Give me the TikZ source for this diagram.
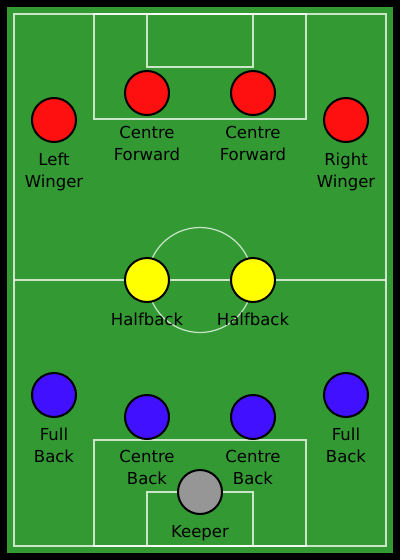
\documentclass[tikz,border=0pt]{standalone}
\usepackage{fontspec}
\setmainfont{DejaVu Sans}
\definecolor{pitch}{RGB}{51,153,51}
\definecolor{fwd}{RGB}{255,16,16}
\definecolor{half}{RGB}{255,255,0}
\definecolor{back}{RGB}{64,16,255}
\definecolor{keep}{RGB}{150,150,150}
\begin{document}
\begin{tikzpicture}[x=1pt,y=-1pt,
  pline/.style={draw=white,draw opacity=0.75,line width=1.2pt},
  player/.style={circle,draw=black,line width=2pt,minimum size=44pt,inner sep=0pt},
  lbl/.style={anchor=base,align=center,inner sep=0pt,font=\fontsize{16.5}{22}\selectfont}]
\useasboundingbox (0,0) rectangle (400,560);
\fill[black] (0,0) rectangle (400,560);
\fill[pitch] (7,7) rectangle (393,553);
% markings
\draw[pline] (14,14) rectangle (386,546);
\draw[pline] (14,280) -- (386,280);
\draw[pline] (200,280) circle[radius=52.5];
\draw[pline] (94,14) rectangle (306,119);
\draw[pline] (147,14) rectangle (253,67);
\draw[pline] (94,546) rectangle (306,440);
\draw[pline] (147,546) rectangle (253,492);
% players
\node[player,fill=fwd] (lw) at (54,120) {};
\node[player,fill=fwd] (cf1) at (147,93) {};
\node[player,fill=fwd] (cf2) at (253,93) {};
\node[player,fill=fwd] (rw) at (346,120) {};
\node[player,fill=half] (hb1) at (147,280) {};
\node[player,fill=half] (hb2) at (253,280) {};
\node[player,fill=back] (fb1) at (54,395) {};
\node[player,fill=back] (cb1) at (147,417) {};
\node[player,fill=back] (cb2) at (253,417) {};
\node[player,fill=back] (fb2) at (346,395) {};
\node[player,fill=keep] (gk) at (200,492) {};
% labels (base = baseline of last line)
\node[lbl] (lwl) at (54,187) {Left\\Winger};
\node[lbl] (cf1l) at (147,160) {Centre\\Forward};
\node[lbl] (cf2l) at (253,160) {Centre\\Forward};
\node[lbl] (rwl) at (346,187) {Right\\Winger};
\node[lbl] (hb1l) at (147,325) {Halfback};
\node[lbl] (hb2l) at (253,325) {Halfback};
\node[lbl] (fb1l) at (54,462) {Full\\Back};
\node[lbl] (cb1l) at (147,484) {Centre\\Back};
\node[lbl] (cb2l) at (253,484) {Centre\\Back};
\node[lbl] (fb2l) at (346,462) {Full\\Back};
\node[lbl] (gkl) at (200,537) {Keeper};
\end{tikzpicture}
\end{document}
